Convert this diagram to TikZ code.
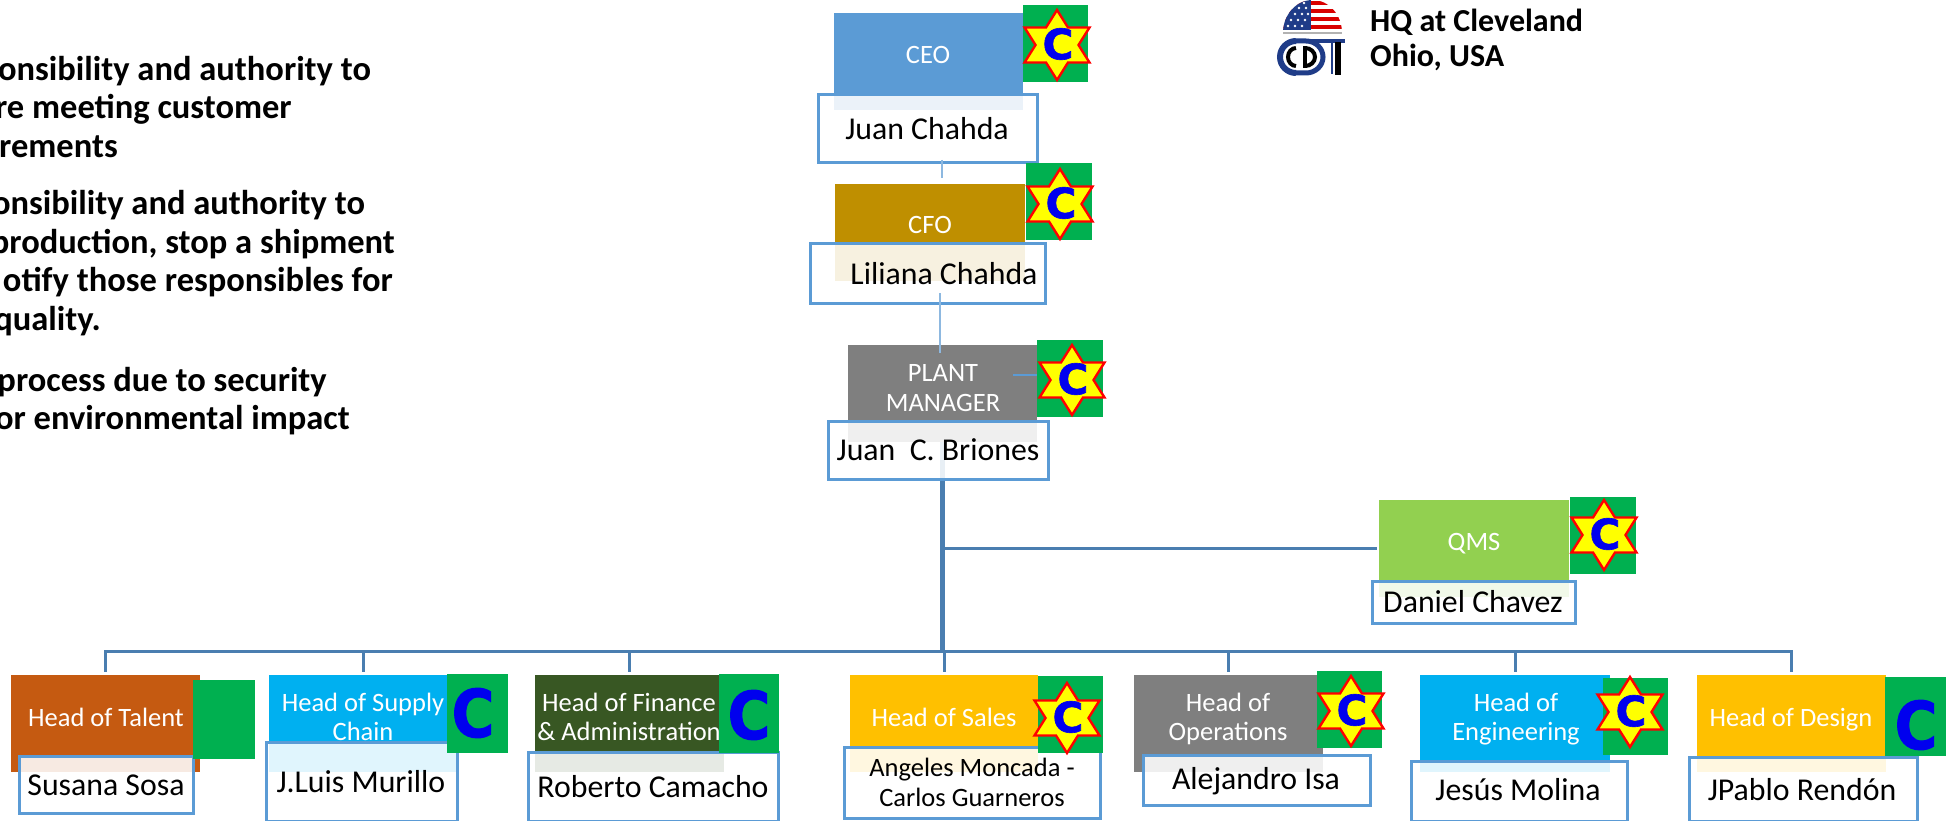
\documentclass[tikz,border=0pt]{standalone}
\usepackage{fontspec}
\setmainfont{Carlito}
\newfontfamily\cfont[BoldFeatures={FakeBold=1.5}]{DejaVu Sans}
\definecolor{cStar}{HTML}{FFFF00}
\definecolor{cRed}{HTML}{FF0000}
\definecolor{cBlue}{HTML}{0000EE}
\definecolor{cGreen}{HTML}{00B050}
\definecolor{cEdge}{HTML}{5B9BD5}
\definecolor{cBus}{HTML}{4A7EB0}
\definecolor{cThin}{HTML}{8DB8E0}
\definecolor{cCEO}{HTML}{5B9BD5}
\definecolor{cCFO}{HTML}{BF8F00}
\definecolor{cGray}{HTML}{7F7F7F}
\definecolor{cQMS}{HTML}{92D050}
\definecolor{cTalent}{HTML}{C55A11}
\definecolor{cCyan}{HTML}{00B0F0}
\definecolor{cFin}{HTML}{385723}
\definecolor{cGold}{HTML}{FFC000}
\definecolor{cNavy}{HTML}{1F3C88}
\tikzset{
  x=1pt,y=-1pt,
  rolebox/.style={fill=#1,draw=none,inner sep=0pt},
  namebox/.style={draw=cEdge,line width=3pt,fill=white,fill opacity=.88,inner sep=0pt},
  badge/.style={fill=cGreen,draw=none,inner sep=0pt},
  roletxt/.style={anchor=base,text=white,font=\fontsize{26.5}{31}\selectfont,inner sep=0pt},
  nametxt/.style={anchor=base,text=black,font=\fontsize{31.8}{37}\selectfont,inner sep=0pt},
  sidetxt/.style={anchor=base east,text=black,font=\fontsize{34.5}{40}\bfseries\selectfont,inner sep=0pt},
  hqtxt/.style={anchor=base west,text=black,font=\fontsize{32}{38}\bfseries\selectfont,inner sep=0pt},
  bus/.style={draw=cBus,line width=3pt},
  trunk/.style={draw=cBus,line width=4.5pt},
  thin/.style={draw=cThin,line width=2pt},
}
% name, x1,y1,x2,y2, style
\newcommand\bx[6]{\node[#6,minimum width={(#4-#2)*1pt},minimum height={(#5-#3)*1pt}] (#1) at ({(#2+#4)/2},{(#3+#5)/2}) {};}
% star with C, centre x,y
\newcommand\starC[2]{%
  \begin{scope}[shift={(#1,#2)}]
    \draw[fill=cStar,draw=cRed,line width=2.4pt,miter limit=6]
      (0,-35)--(11,-17.5)--(32.5,-17.5)--(21.5,0)--(32.5,17.5)--(11,17.5)--(0,35)
      --(-11,17.5)--(-32.5,17.5)--(-21.5,0)--(-32.5,-17.5)--(-11,-17.5)--cycle;
    \node[text=cBlue,inner sep=0pt,font=\fontsize{42}{42}\cfont\bfseries\selectfont] at (1,-1) {C};
  \end{scope}}
\newcommand\bigC[2]{\node[text=cBlue,inner sep=0pt,font=\fontsize{66}{66}\cfont\bfseries\selectfont,xscale=.88] at (#1,#2) {C};}
\begin{document}
\begin{tikzpicture}
\useasboundingbox (0,0) rectangle (1952,821);
\clip (0,0) rectangle (1952,821);
\fill[white] (0,0) rectangle (1952,821);
% side text
\node[sidetxt] at (371,81) {onsibility and authority to};
\node[sidetxt] at (292,119) {re meeting customer};
\node[sidetxt] at (118,158) {rements};
\node[sidetxt] at (365,215) {onsibility and authority to};
\node[sidetxt] at (395,254) {production, stop a shipment};
\node[sidetxt] at (393,291) {otify those responsibles for};
\node[sidetxt] at (101,330) {quality.};
\node[sidetxt] at (327,391) {process due to security};
\node[sidetxt] at (350,429) {or environmental impact};
% HQ
\node[hqtxt] at (1370,32) {HQ at Cleveland};
\node[hqtxt] at (1370,67) {Ohio, USA};
% flag
\begin{scope}
  \clip (1283,33) arc[start angle=180,end angle=360,x radius=29.5,y radius=33] -- cycle;
  \fill[white] (1283,0) rectangle (1343,33);
  \foreach \yy in {1,9,17,25}{\fill[cRed!85!black] (1283,\yy) rectangle (1343,\yy+4.5);}
  \fill[cNavy] (1283,0) rectangle (1311,30);
  \foreach \xx/\yy in {1288/26,1295/26,1302/26,1291/20,1298/20,1305/20,1295/14,1302/14,1308/14,1299/8,1306/8,1304/3}{\fill[white] (\xx,\yy) circle (1.3);}
\end{scope}
\fill[gray!60] (1283,32) rectangle (1342,34.5);
% logo
\draw[cNavy,line width=6pt] (1296,41) arc[start angle=270,end angle=90,x radius=16,y radius=16];
\draw[black,line width=4pt] (1296,48) arc[start angle=270,end angle=90,x radius=8,y radius=9];
\draw[cNavy,line width=5pt] (1296,41) -- (1306,41) arc[start angle=270,end angle=450,x radius=17,y radius=16] -- (1296,73);
\draw[black,line width=4pt] (1305,48) arc[start angle=270,end angle=450,x radius=10,y radius=9];
\draw[black,line width=4pt] (1305,46) -- (1305,68);
\draw[cNavy,line width=4.5pt] (1306,41) -- (1345,41);
\draw[cNavy,line width=2.5pt] (1332,43) -- (1332,74);
\draw[black,line width=6pt] (1337.5,42) -- (1337.5,75);
% role boxes
\bx{ceo}{834}{13}{1023}{110}{rolebox=cCEO}
\bx{cfo}{835}{184}{1025}{281}{rolebox=cCFO}
\bx{plant}{848}{345}{1037}{442}{rolebox=cGray}
\bx{qms}{1379}{500}{1569}{597}{rolebox=cQMS}
\bx{talent}{11}{675}{200}{772}{rolebox=cTalent}
\bx{supply}{269}{675}{458}{772}{rolebox=cCyan}
\bx{finance}{535}{675}{724}{772}{rolebox=cFin}
\bx{sales}{850}{675}{1038}{772}{rolebox=cGold}
\bx{ops}{1134}{675}{1323}{772}{rolebox=cGray}
\bx{eng}{1420}{675}{1610}{772}{rolebox=cCyan}
\bx{design}{1697}{675}{1886}{772}{rolebox=cGold}
\coordinate (busY) at (943,651);
\coordinate (tick) at (1013,375);
\coordinate (upA) at (942,160);
\coordinate (upB) at (942,178);
\coordinate (upC) at (940,293);
\coordinate (upD) at (940,353);
% trunk (runs beneath the translucent name box)
\draw[trunk] (plant.south) -- (plant.south |- busY);
% role labels
\node[roletxt] at (928,64) {CEO};
\node[roletxt] at (930,234) {CFO};
\node[roletxt] at (943,381) {PLANT};
\node[roletxt] at (943,411) {MANAGER};
\node[roletxt] at (1474,550) {QMS};
\node[roletxt] at (106,726) {Head of Talent};
\node[roletxt] at (363,711) {Head of Supply};
\node[roletxt] at (363,740) {Chain};
\node[roletxt] at (629,711) {Head of Finance};
\node[roletxt] at (629,740) {\& Administration};
\node[roletxt] at (944,726) {Head of Sales};
\node[roletxt] at (1228,711) {Head of};
\node[roletxt] at (1228,740) {Operations};
\node[roletxt] at (1516,711) {Head of};
\node[roletxt] at (1516,740) {Engineering};
\node[roletxt] at (1791,726) {Head of Design};
% name boxes
\bx{nceo}{818}{95}{1037}{163}{namebox}
\bx{ncfo}{810}{244}{1045}{303}{namebox}
\bx{nplant}{828}{421}{1048}{479}{namebox}
\bx{nqms}{1372}{581}{1575}{623}{namebox}
\bx{ntalent}{19}{756}{193}{813}{namebox}
\bx{nsupply}{266}{742}{457}{821}{namebox}
\bx{nfinance}{528}{752}{778}{821}{namebox}
\bx{nsales}{844}{747}{1100}{818}{namebox}
\bx{nops}{1143}{755}{1370}{805}{namebox}
\bx{neng}{1411}{761}{1627}{821}{namebox}
\bx{ndesign}{1689}{757}{1917}{821}{namebox}
% connectors
\draw[thin] (upA) -- (upB);
\draw[thin] (upC) -- (upD);
\draw[draw=cEdge,line width=1.5pt] (tick) -- (plant.east |- tick);
\draw[trunk] (nplant.south -| plant.south) -- (plant.south |- busY);
\draw[bus] (plant.south |- qms.west) -- ([xshift=-2pt]qms.west);
\draw[bus] ([yshift=3pt]talent.north) -- (talent.north |- busY) -- (design.north |- busY) -- ([yshift=3pt]design.north);
\draw[bus] (supply.north |- busY) -- ([yshift=3pt]supply.north);
\draw[bus] (finance.north |- busY) -- ([yshift=3pt]finance.north);
\draw[bus] (sales.north |- busY) -- ([yshift=3pt]sales.north);
\draw[bus] (ops.north |- busY) -- ([yshift=3pt]ops.north);
\draw[bus] (eng.north |- busY) -- ([yshift=3pt]eng.north);
% names
\node[nametxt] at (927,140) {Juan Chahda};
\node[nametxt] at (944,284) {Liliana Chahda};
\node[nametxt] at (938,460) {Juan\ \ C. Briones};
\node[nametxt] at (1473,612) {Daniel Chavez};
\node[nametxt] at (106,795) {Susana Sosa};
\node[nametxt] at (361,792) {J.Luis Murillo};
\node[nametxt] at (653,797) {Roberto Camacho};
\node[nametxt,font=\fontsize{26.5}{31}\selectfont] at (972,776) {Angeles Moncada -};
\node[nametxt,font=\fontsize{26.5}{31}\selectfont] at (972,806) {Carlos Guarneros};
\node[nametxt] at (1256,789) {Alejandro Isa};
\node[nametxt] at (1518,800) {Jesús Molina};
\node[nametxt] at (1802,800) {JPablo Rendón};
% badges
\bx{bceo}{1023}{5}{1088}{82}{badge}
\bx{bcfo}{1026}{163}{1092}{240}{badge}
\bx{bplant}{1037}{340}{1103}{417}{badge}
\bx{bqms}{1570}{497}{1636}{574}{badge}
\bx{btalent}{193}{680}{255}{759}{badge}
\bx{bsupply}{447}{674}{508}{753}{badge}
\bx{bfinance}{719}{674}{779}{753}{badge}
\bx{bsales}{1038}{676}{1103}{753}{badge}
\bx{bops}{1317}{671}{1382}{748}{badge}
\bx{beng}{1603}{678}{1668}{755}{badge}
\bx{bdesign}{1885}{677}{1946}{756}{badge}
\starC{1057}{45}
\starC{1060}{204}
\starC{1072}{380}
\starC{1604}{535}
\starC{1067}{718}
\starC{1351}{711}
\starC{1630}{712}
\bigC{473}{713}
\bigC{749}{715}
\bigC{1916}{725}
\end{tikzpicture}
\end{document}
